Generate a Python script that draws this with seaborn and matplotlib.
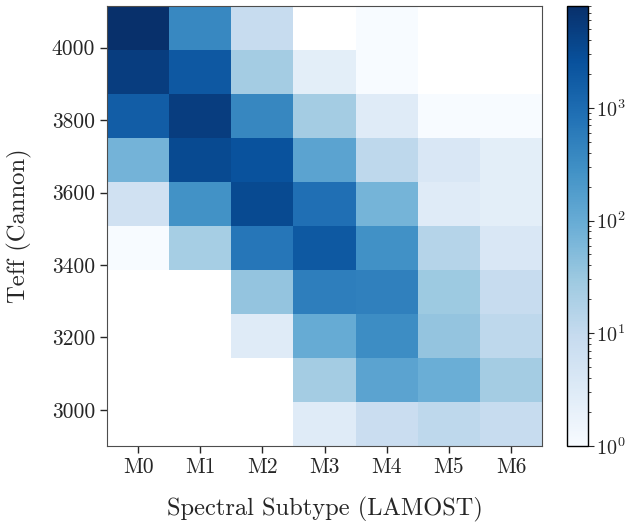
import numpy as np
import pandas as pd
import matplotlib
matplotlib.use("Agg")
import matplotlib.pyplot as plt
from matplotlib.colors import LogNorm
import seaborn as sns

# ---- data ----
subtypes = ["M0", "M1", "M2", "M3", "M4", "M5", "M6"]
teff_edges = [2900, 3021.5, 3143, 3264.5, 3386, 3507.5, 3629, 3750.5, 3872, 3993.5, 4115]
# counts per subtype, one value per Teff bin (bottom -> top); 0 = empty
M0 = [0, 0, 0, 0, 1, 6, 75, 1700, 5000, 7800]
M1 = [0, 0, 0, 0, 23, 270, 3300, 5000, 2000, 380]
M2 = [0, 0, 3, 36, 700, 3300, 2500, 400, 25, 9]
M3 = [3, 25, 100, 550, 1900, 900, 140, 25, 2.5, 0]
M4 = [8, 140, 320, 500, 280, 70, 12, 3, 1, 1]
M5 = [12, 90, 36, 30, 15, 3, 4, 1, 0, 0]
M6 = [9, 25, 12, 9, 4, 2.5, 2.5, 1, 0, 0]
ytick_vals = [3000, 3200, 3400, 3600, 3800, 4000]

counts = [M0, M1, M2, M3, M4, M5, M6]
centers = [(teff_edges[i] + teff_edges[i + 1]) / 2 for i in range(len(teff_edges) - 1)]
rows = []
for j, col in enumerate(counts):
    for i, c in enumerate(col):
        if c > 0:
            rows.append({"sub": j, "teff": centers[i], "n": c})
df = pd.DataFrame(rows)

sns.set_style("ticks")
plt.rcParams["font.family"] = ["cmr10", "DejaVu Serif"]
plt.rcParams["mathtext.fontset"] = "cm"
plt.rcParams["axes.formatter.use_mathtext"] = True
plt.rcParams["axes.unicode_minus"] = False

fig = plt.figure(figsize=(6.27, 5.22), dpi=100)
ax = fig.add_axes([107 / 627, 76 / 522, 435 / 627, 440 / 522])
cax = fig.add_axes([567 / 627, 76 / 522, 21 / 627, 440 / 522])

xedges = np.arange(len(subtypes) + 1) - 0.5
sns.histplot(data=df, x="sub", y="teff", weights="n",
             bins=(xedges, np.array(teff_edges)), cmap="Blues",
             cbar=False, ax=ax)
mesh = ax.collections[0]
mesh.set_norm(LogNorm(vmin=1, vmax=8000))
cb = fig.colorbar(mesh, cax=cax)
cb.outline.set_edgecolor("black")
cb.outline.set_linewidth(1)

ax.set_xlim(xedges[0], xedges[-1])
ax.set_ylim(teff_edges[0], teff_edges[-1])
ax.set_xticks(range(len(subtypes)))
ax.set_xticklabels(subtypes)
ax.set_yticks(ytick_vals)
ax.set_yticklabels([str(v) for v in ytick_vals])
ax.tick_params(labelsize=15.5, length=5, width=1)
ax.set_xlabel("Spectral Subtype (LAMOST)", fontsize=17.6, labelpad=14)
ax.set_ylabel("Teff (Cannon)", fontsize=17.8, labelpad=14)
for s in ax.spines.values():
    s.set_visible(True)
    s.set_color("0.3")

cax.tick_params(labelsize=14.5, which="major", length=4, pad=2)
cax.tick_params(which="minor", length=2.5)

fig.savefig("out.png", dpi=100)
